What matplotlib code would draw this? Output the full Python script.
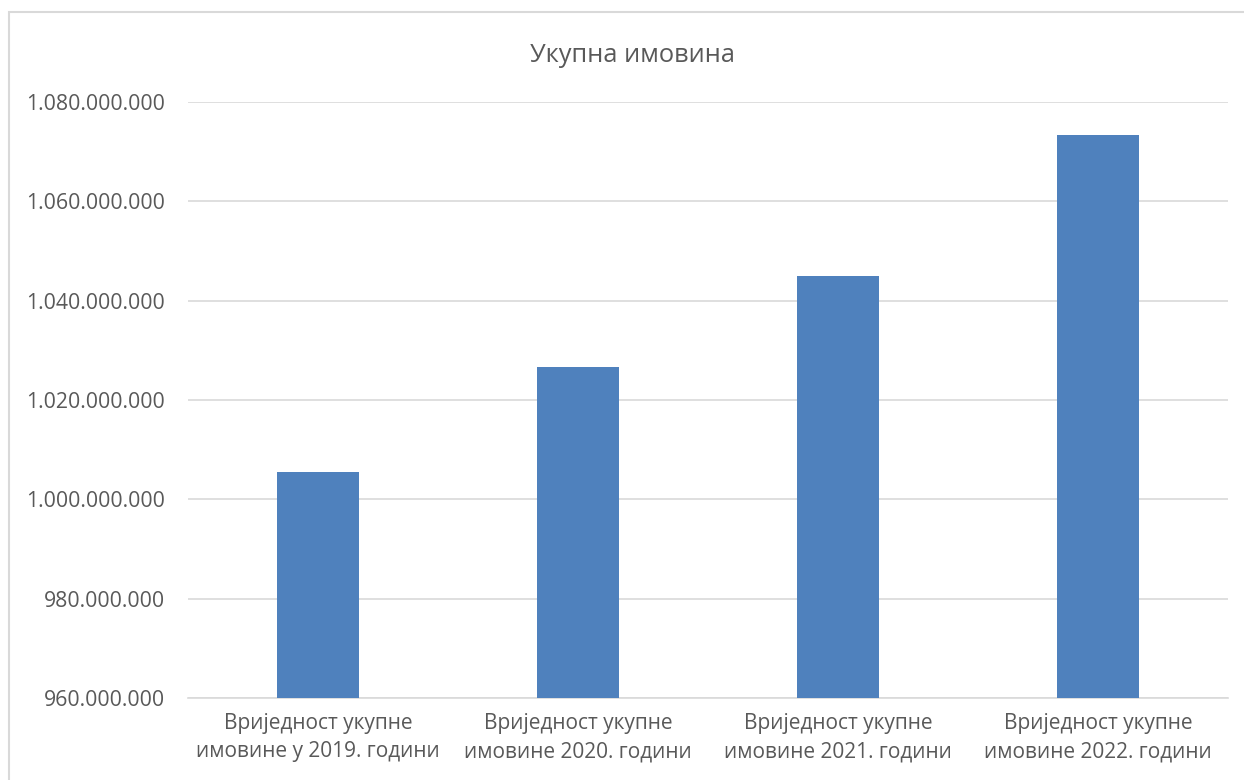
import matplotlib.pyplot as plt
from matplotlib.patches import Rectangle
from matplotlib.ticker import FuncFormatter

plt.rcParams['font.family'] = ['Open Sans', 'DejaVu Sans']

# ----------------------------
# Data
# ----------------------------
categories = [
    "Вриједност укупне\nимовине у 2019. години",
    "Вриједност укупне\nимовине 2020. години",
    "Вриједност укупне\nимовине 2021. години",
    "Вриједност укупне\nимовине 2022. години",
]
values = [1005600000, 1026600000, 1045000000, 1073400000]
y_ticks = [960000000, 980000000, 1000000000, 1020000000, 1040000000, 1060000000, 1080000000]

text_color = "#595959"
grid_color = "#d9d9d9"
bar_color = "#4f81bd"

fig = plt.figure(figsize=(12.44, 7.8), dpi=100)
ax = fig.add_axes([188 / 1244, 1 - 698 / 780, (1228 - 188) / 1244, (698 - 102) / 780])

# chart border
fig.patches.append(Rectangle((9 / 1244, -0.01), 1.2, 1 - 12 / 780 + 0.01,
                             transform=fig.transFigure, fill=False,
                             edgecolor=grid_color, linewidth=1.5))

x = range(len(categories))
ax.bar(x, values, width=0.316, color=bar_color, zorder=3)

ax.set_xlim(-0.5, len(categories) - 0.5)
ax.set_ylim(960000000, 1080000000)
ax.set_yticks(y_ticks)
ax.yaxis.set_major_formatter(FuncFormatter(lambda v, p: f"{int(v):,}".replace(",", ".")))
ax.set_xticks(list(x))
ax.set_xticklabels(categories, fontsize=15, color=text_color, linespacing=1.45)
ax.tick_params(axis="y", labelsize=15.3, labelcolor=text_color, length=0, pad=16.5)
ax.tick_params(axis="x", length=0, pad=11)

ax.grid(axis="y", color=grid_color, linewidth=1.2, zorder=0)
for s in ["top", "right", "left"]:
    ax.spines[s].set_visible(False)
ax.spines["bottom"].set_color(grid_color)
ax.spines["bottom"].set_linewidth(1.2)

fig.text(633 / 1244, 1 - 55 / 780, "Укупна имовина", ha="center", va="center",
         fontsize=18.3, color=text_color)

fig.savefig("out.png", dpi=100)
